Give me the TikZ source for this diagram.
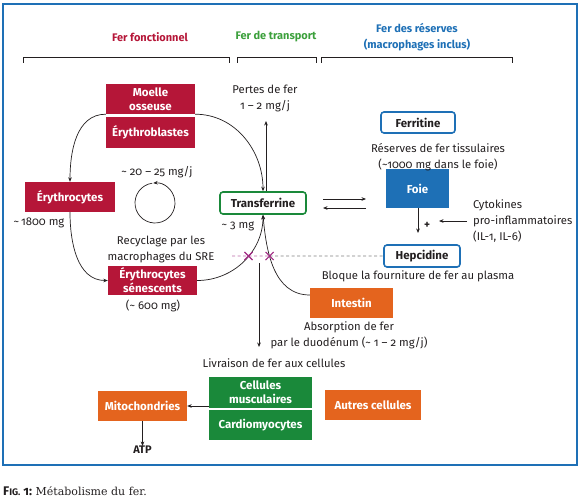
\documentclass[tikz,border=0pt]{standalone}
\usepackage{fontspec}
\setmainfont{Fira Sans}[Numbers=OldStyle]
\newfontfamily\capfont{DejaVu Serif}
\usetikzlibrary{arrows.meta,shapes.misc,intersections,calc}
\definecolor{ink}{RGB}{35,31,32}
\definecolor{cred}{RGB}{181,22,56}
\definecolor{cgreen}{RGB}{26,137,58}
\definecolor{hgreen}{RGB}{60,160,60}
\definecolor{cblue}{RGB}{30,112,182}
\definecolor{corange}{RGB}{228,100,30}
\definecolor{cpurple}{RGB}{160,40,130}
\newcommand{\tl}{\textasciitilde}
\tikzset{
  lbl/.style={font=\fontsize{11.3}{16}\selectfont, text=ink, align=center, inner sep=0pt},
  hdr/.style={font=\fontsize{11}{16}\selectfont\bfseries, text=#1, align=center, inner sep=0pt},
  fbox/.style={fill=#1, text=white, font=\fontsize{11.5}{14}\selectfont\bfseries, align=center,
     inner sep=0pt, minimum width=89pt, minimum height=30pt},
  rbox/.style={draw=#1, line width=1.6pt, rounded corners=3pt, fill=white, text=ink,
     font=\fontsize{11.5}{14}\selectfont\bfseries, inner sep=0pt},
  arr/.style={draw=ink, line width=0.7pt, -{Stealth[length=4.5pt,width=3.6pt]}},
  brk/.style={draw=ink, line width=0.7pt},
  xmark/.style={cross out, draw=cpurple, line width=1.1pt, minimum size=7pt, inner sep=0pt},
}
\begin{document}
\begin{tikzpicture}[x=1pt,y=1pt]
\useasboundingbox (0,0) rectangle (588,-500);
\draw[cblue, line width=1.5pt] (3,-4) rectangle (577,-465);

% headers
\node[hdr=cred] (h1) at (150,-37) {Fer fonctionnel};
\node[hdr=hgreen] (h2) at (276,-37) {Fer de transport};
\node[hdr=cblue] (h3) at (417,-37) {Fer des réserves\\(macrophages inclus)};
\draw[brk] (23,-63) -- (23,-57) -- (229,-57) -- (229,-63);
\draw[brk] (237,-63) -- (237,-57) -- (316,-57) -- (316,-63);
\draw[brk] (321,-63) -- (321,-57) -- (512,-57) -- (512,-63);

% boxes
\node[fbox=cred] (moelle) at (150.5,-99) {Moelle\\osseuse};
\node[fbox=cred, minimum height=31pt] (eryb) at (150.5,-132.5) {Érythroblastes};
\node[fbox=cred, minimum width=90pt] (ery) at (70,-197) {Érythrocytes};
\node[fbox=cred, minimum height=29pt] (sen) at (152.5,-280.5) {Érythrocytes\\sénescents};
\node[rbox=cgreen, minimum width=86pt, minimum height=22pt] (transf) at (263,-203) {Transferrine};
\node[rbox=cblue, minimum width=74pt, minimum height=21pt] (ferr) at (418,-122.5) {Ferritine};
\node[fbox=cblue, minimum width=63pt, minimum height=39pt] (foie) at (417.5,-188.5) {Foie};
\node[rbox=cblue, minimum width=76pt, minimum height=22pt] (hep) at (422,-256) {Hepcidine};
\node[fbox=corange, minimum width=83pt] (int) at (351.5,-303) {Intestin};
\node[fbox=cgreen, minimum width=103pt, minimum height=31pt] (cell) at (260.5,-392.5) {Cellules\\musculaires};
\node[fbox=cgreen, minimum width=103pt] (cardio) at (260.5,-425) {Cardiomyocytes};
\node[fbox=corange] (mito) at (142.5,-406) {Mitochondries};
\node[fbox=corange, minimum width=96pt] (autres) at (373,-405) {Autres cellules};

% text labels
\node[lbl] (pertes) at (265,-98) {Pertes de fer\\1 – 2 mg/j};
\node[lbl] (l1800) at (39,-223) {\tl\,1800 mg};
\node[lbl] (l2025) at (157,-172) {\tl\ 20 – 25 mg/j};
\node[lbl] (l3) at (238,-226) {\tl\ 3 mg};
\node[lbl] (recy) at (161,-249) {Recyclage par les\\macrophages du SRE};
\node[lbl] (l600) at (153,-306) {(\tl\ 600 mg)};
\node[lbl] (reserv) at (438,-157.5) {Réserves de fer tissulaires\\(\tl1000 mg dans le foie)};
\node[lbl, anchor=west, align=left] (cyto) at (473,-221) {Cytokines\\pro-inflammatoires\\(IL-1, IL-6)};
\node[lbl] (bloque) at (418,-276) {Bloque la fourniture de fer au plasma};
\node[lbl] (absorb) at (349,-335) {Absorption de fer\\par le duodénum (\tl\ 1 – 2 mg/j)};
\node[lbl] (livr) at (274,-363) {Livraison de fer aux cellules};
\node[lbl, font=\fontsize{11}{12}\selectfont\bfseries] (atp) at (142.5,-450) {ATP};
\node[lbl] (plus) at (427,-225) {\bfseries +};

% cycle
\draw[arr] (moelle.south west) to[out=180,in=90] (ery.north);
\draw[arr] (moelle.south east) to[out=0,in=90] (transf.north);
\draw[arr] (ery.south) to[out=-90,in=180] (sen.west);
\draw[arr, name path=pA] (sen.east) to[out=0,in=-90] (transf.south);
\draw[arr, name path=pB] ([yshift=8pt]int.west) to[out=180,in=-85] (transf.south);

% small circle
\coordinate (cc) at (155,-203);
\draw[arr] ($(cc)+(-262:20)$) arc[start angle=-262, end angle=95, radius=20];

% pertes
\coordinate (pt) at (266,-121);
\draw[arr] ([xshift=3pt]transf.north) -- (pt);

% dashed line with crosses
\coordinate (dstart) at (232,-256);
\path[name path=pD] (dstart) -- (hep.west);
\path[name intersections={of=pA and pD, by=ia}];
\path[name intersections={of=pB and pD, by=ib}];
\draw[cpurple!70, line width=0.7pt, dash pattern=on 3pt off 2.5pt] (dstart) -- (ib);
\draw[gray, line width=0.7pt, dash pattern=on 3pt off 2.5pt] (ib) -- (hep.west);
\node[xmark] (xa) at (ia) {};
\node[xmark] (xb) at (ib) {};

% exchange
\coordinate (ex1) at (323,-199);
\coordinate (ex2) at (366,-199);
\coordinate (ex3) at (366,-208);
\coordinate (ex4) at (323,-208);
\draw[arr] (ex1) -- (ex2);
\draw[arr] (ex3) -- (ex4);

% foie -> hepcidine, cytokines
\coordinate (fh) at (418,-233);
\draw[arr] (foie.south -| fh) -- (fh);
\coordinate (cy1) at (467,-221);
\coordinate (cy2) at (439,-221);
\draw[arr] (cy1) -- (cy2);

% delivery
\coordinate (dtop) at (259,-263);
\coordinate (dbot) at (259,-347);
\draw[arr] (dtop) -- (dbot);

% mitochondries
\draw[arr] (mito.east -| cell.west) -- (mito.east);
\draw[arr] (mito.south) -- (atp.north);

% caption
\node[anchor=west, inner sep=0pt, text=ink] (cap) at (3,-491)
  {{\bfseries\fontsize{12.5}{14}\selectfont F\fontsize{9.5}{11}\selectfont IG.\fontsize{12.5}{14}\selectfont\ 1:}
   {\capfont\fontsize{11}{13}\selectfont Métabolisme du fer.}};
\end{tikzpicture}
\end{document}
